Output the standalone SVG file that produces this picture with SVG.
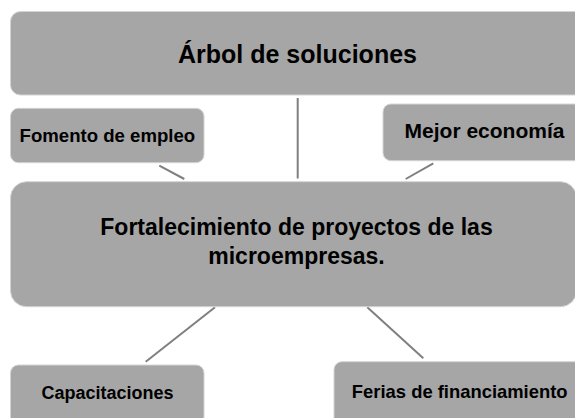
<svg xmlns="http://www.w3.org/2000/svg" width="575" height="418" viewBox="0 0 575 418">
<style>
.box{fill:#a6a6a6;stroke:#d4d4d4;stroke-width:1}
.t{font-family:"Liberation Sans",Arial,sans-serif;font-weight:bold;fill:#000;text-anchor:middle}
.c{stroke:#7f7f7f;stroke-width:2;fill:none}
</style>
<rect width="575" height="418" fill="#ffffff"/>
<g id="connectors">
<line class="c" x1="297.7" y1="98" x2="297.7" y2="178.5"/>
<line class="c" x1="159.3" y1="165.7" x2="184.3" y2="179"/>
<line class="c" x1="433.3" y1="163.3" x2="405.7" y2="179"/>
<line class="c" x1="215" y1="307.3" x2="145.7" y2="361.7"/>
<line class="c" x1="367.3" y1="307.3" x2="423.3" y2="358.3"/>
</g>
<g id="titulo">
<rect class="box" x="10.5" y="11.5" width="580" height="83.5" rx="10"/>
<text class="t" x="297.5" y="62.5" font-size="25">Árbol de soluciones</text>
</g>
<g id="fomento">
<rect class="box" x="10.5" y="108.3" width="193.5" height="54.4" rx="8"/>
<text class="t" x="107.4" y="141.7" font-size="18.6">Fomento de empleo</text>
</g>
<g id="mejor">
<rect class="box" x="383" y="104" width="203" height="56.7" rx="8"/>
<text class="t" x="484.5" y="138" font-size="21">Mejor economía</text>
</g>
<g id="fortalecimiento">
<rect class="box" x="10.5" y="181.7" width="566" height="125" rx="16"/>
<text class="t" x="296.5" y="235" font-size="23">Fortalecimiento de proyectos de las</text>
<text class="t" x="296.5" y="263.5" font-size="23">microempresas.</text>
</g>
<g id="capacitaciones">
<rect class="box" x="10.5" y="365" width="193.5" height="60" rx="8"/>
<text class="t" x="107.5" y="399.3" font-size="18">Capacitaciones</text>
</g>
<g id="ferias">
<rect class="box" x="334" y="361.7" width="252" height="64" rx="8"/>
<text class="t" x="459.7" y="398" font-size="18.4">Ferias de financiamiento</text>
</g>
</svg>
